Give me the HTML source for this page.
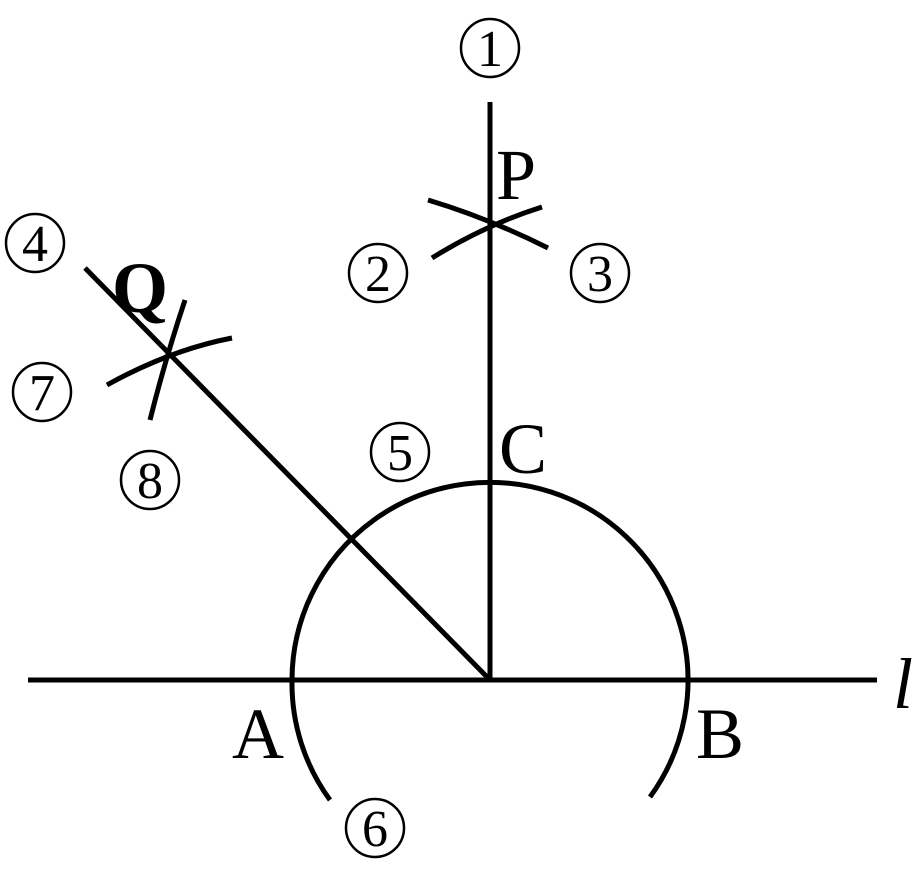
<!DOCTYPE html>
<html><head><meta charset="utf-8"><style>
html,body{margin:0;padding:0;background:#fff;}
svg{display:block;}
text{font-family:"Liberation Serif",serif;fill:#000;}
</style></head><body>
<svg width="921" height="883" viewBox="0 0 921 883" xmlns="http://www.w3.org/2000/svg">
<g stroke="#000" stroke-width="5" fill="none" stroke-linecap="butt">
<line x1="28" y1="680" x2="877" y2="680"/>
<line x1="490" y1="102" x2="490" y2="680"/>
<line x1="85" y1="268" x2="490" y2="680"/>
<path d="M650,797 A198,198 0 1 0 292,680"/>
<path d="M292,680 A198,198 0 0 0 330,800"/>
<path d="M432,258 Q485,225 542,207"/>
<path d="M428,200 Q488,218 548,248"/>
<path d="M107,385 Q170,350 232,338"/>
<path d="M150,420 Q165,360 185,300"/>
</g>
<g stroke="#000" stroke-width="2.5" fill="none">
<circle cx="490" cy="48" r="29"/>
<circle cx="378" cy="273" r="29"/>
<circle cx="600" cy="273" r="29"/>
<circle cx="35" cy="243" r="29"/>
<circle cx="400" cy="452" r="29"/>
<circle cx="375" cy="828" r="29"/>
<circle cx="42" cy="392" r="29"/>
<circle cx="150" cy="480" r="29"/>
</g>
<g font-size="52" text-anchor="middle">
<text x="490" y="66">1</text>
<text x="378" y="291">2</text>
<text x="600" y="291">3</text>
<text x="35" y="261">4</text>
<text x="400" y="470">5</text>
<text x="375" y="846">6</text>
<text x="42" y="410">7</text>
<text x="150" y="498">8</text>
</g>
<g font-size="72">
<text x="496" y="199">P</text>
<text x="112" y="312" font-weight="bold">Q</text>
<text x="499" y="473">C</text>
<text x="232" y="758">A</text>
<text x="696" y="758">B</text>
<text x="893" y="708" font-style="italic">l</text>
</g>
</svg>
</body></html>
